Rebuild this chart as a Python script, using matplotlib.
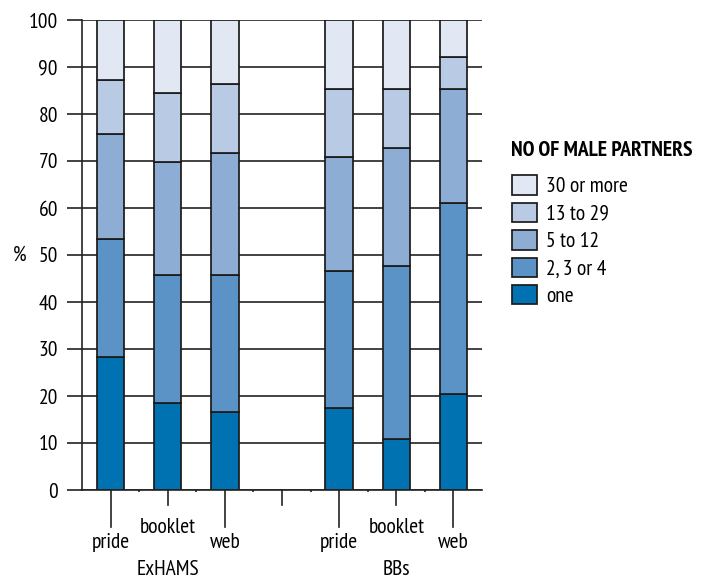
import matplotlib
matplotlib.use("Agg")
import matplotlib.pyplot as plt
import matplotlib.transforms as mtransforms
from matplotlib.patches import Patch
import numpy as np

plt.rcParams['font.family'] = ['PT Sans Narrow', 'DejaVu Sans']

# Data (percent, per category)
slots = ["pride", "booklet", "web", "", "pride", "booklet", "web"]
groups = ["ExHAMS", "BBs"]
series_names = ["one", "2, 3 or 4", "5 to 12", "13 to 29", "30 or more"]
one        = [28.3, 18.5, 16.6, None, 17.5, 10.8, 20.5]
two_to_4   = [25.2, 27.2, 29.1, None, 29.1, 36.9, 40.6]
five_to_12 = [22.3, 24.1, 26.1, None, 24.2, 25.1, 24.2]
t13_to_29  = [11.5, 14.6, 14.5, None, 14.5, 12.5, 6.8]
thirty_up  = [12.7, 15.6, 13.7, None, 14.7, 14.7, 7.9]
colors = ["#0072B2", "#5B93C7", "#8DADD5", "#B9CAE4", "#E1E8F3"]
legend_title = "NO OF MALE PARTNERS"

series = [one, two_to_4, five_to_12, t13_to_29, thirty_up]

FS = 15.5
fig = plt.figure(figsize=(7.10, 5.79), dpi=100)
ax = fig.add_axes([82/710, 1-490/579, 400/710, 470/579])

x = np.arange(len(slots))
bottom = np.zeros(len(slots))
edge = "#1a1a1a"
for vals, col, name in zip(series, colors, series_names):
    v = np.array([np.nan if a is None else a for a in vals])
    mask = ~np.isnan(v)
    ax.bar(x[mask], v[mask], bottom=bottom[mask], width=0.48, color=col,
           edgecolor=edge, linewidth=1.25, label=name, zorder=3)
    bottom[mask] += v[mask]

ax.set_xlim(-0.5, len(slots) - 0.5)
ax.set_ylim(0, 100)
ax.set_yticks(np.arange(0, 101, 10))
ax.tick_params(axis='y', length=10.8, width=1.2, color="#222222", pad=6.5,
               labelsize=FS)
ax.yaxis.grid(True, color="#222222", linewidth=1.2, zorder=1)
for s in ["top", "right"]:
    ax.spines[s].set_visible(False)
for s in ["left", "bottom"]:
    ax.spines[s].set_color("#222222")
    ax.spines[s].set_linewidth(1.2)
ax.spines["bottom"].set_zorder(4)

ax.set_ylabel("%", rotation=0, fontsize=FS, va="center", ha="center")
ax.yaxis.set_label_coords(-0.155, 0.5)

# x ticks: staggered labels
ax.set_xticks(x)
ax.set_xticklabels([])
ax.tick_params(axis='x', which='major', length=0)
ax.set_xticks(np.arange(0.5, len(slots) - 1, 1), minor=True)
ax.tick_params(axis='x', which='minor', length=1.6, width=1.2, color="#222222")

trans = mtransforms.blended_transform_factory(ax.transData, ax.transAxes)
px = 1.0 / 470  # axes fraction per pixel in y
for i, lab in enumerate(slots):
    long = (i % 2 == 0)
    ln = 37 if long else 15
    ax.plot([i, i], [0, -ln * px], color="#222222", lw=1.2,
            transform=trans, clip_on=False, zorder=4)
    if lab:
        ty = -(58 if long else 43) * px
        ax.text(i, ty, lab, transform=trans, ha="center", va="baseline",
                fontsize=FS)

for gi, g in enumerate(groups):
    ax.text(1 + 4 * gi, -85 * px, g, transform=trans, ha="center",
            va="baseline", fontsize=FS)

# legend
fig.text(511/710, 1-151/579, legend_title, fontsize=FS, fontweight="bold",
         ha="left", va="center")
handles = [Patch(facecolor=c, edgecolor=edge, linewidth=1.25, label=n)
           for c, n in zip(colors, series_names)][::-1]
leg = fig.legend(handles=handles, loc="upper left",
                 bbox_to_anchor=(508/710, 1-171/579), frameon=False,
                 prop={'size': FS}, borderaxespad=0,
                 handlelength=1.15, handleheight=1.0, handletextpad=0.42,
                 labelspacing=0.3, borderpad=0.2)

fig.savefig("out.png", dpi=100)
